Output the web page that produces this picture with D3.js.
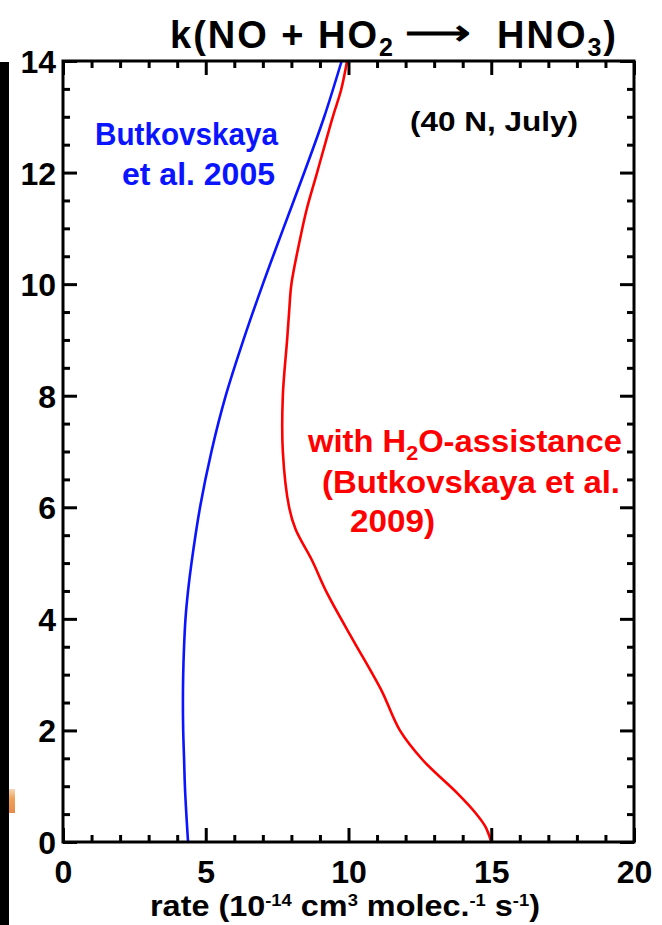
<!DOCTYPE html>
<html>
<head>
<meta charset="utf-8">
<script src="https://cdn.jsdelivr.net/npm/d3@7"></script>
<style>
  html, body { margin: 0; padding: 0; background: #fff; }
  svg { display: block; }
  text { font-family: "Liberation Sans", Arial, Helvetica, sans-serif; font-weight: bold; }
</style>
</head>
<body>
<svg id="chart" width="662" height="925"></svg>
<script>
// Altitude (km) and rate constant (1e-14 cm3 molec-1 s-1)
const butk2005Alt  = [0, 0.5, 1, 1.5, 2, 2.5, 3, 3.5, 4, 4.5, 5, 6, 7, 8, 9, 10, 11, 12, 13, 14];
const butk2005Rate = [4.38, 4.32, 4.27, 4.24, 4.21, 4.2, 4.21, 4.24, 4.29, 4.38, 4.5, 4.8, 5.2, 5.7, 6.32, 7.0, 7.72, 8.45, 9.15, 9.76];

const butk2009Alt  = [0, 0.27, 0.52, 0.88, 1.47, 2.0, 2.67, 3.03, 3.62, 4.46, 5.05, 5.6, 6, 7, 8, 9, 9.5, 10, 10.8, 11.33, 12, 13, 13.48, 14];
const butk2009Rate = [15.0, 14.8, 14.45, 13.8, 12.6, 11.8, 11.2, 10.82, 10.16, 9.25, 8.72, 8.15, 7.92, 7.7, 7.7, 7.85, 7.92, 8.0, 8.3, 8.53, 8.9, 9.45, 9.74, 9.95];

const xMajorTicks = [0, 5, 10, 15, 20];
const yMajorTicks = [0, 2, 4, 6, 8, 10, 12, 14];

const svg = d3.select("#chart");
const m = { left: 63, right: 634, top: 61, bottom: 842 };

const x = d3.scaleLinear().domain([0, 20]).range([m.left, m.right]);
const y = d3.scaleLinear().domain([0, 14]).range([m.bottom, m.top]);

// black strip at the left edge
svg.append("rect").attr("x", 0).attr("y", 62).attr("width", 9).attr("height", 863).attr("fill", "#000");
const grad = svg.append("defs").append("linearGradient").attr("id", "blob").attr("x1", 0).attr("y1", 0).attr("x2", 0).attr("y2", 1);
grad.append("stop").attr("offset", "0%").attr("stop-color", "#f6d7b8");
grad.append("stop").attr("offset", "40%").attr("stop-color", "#eea25a");
grad.append("stop").attr("offset", "100%").attr("stop-color", "#e98a4a");
svg.append("rect").attr("x", 9).attr("y", 789).attr("width", 6).attr("height", 24).attr("fill", "url(#blob)");

// curves
const line = d3.line().x(d => x(d[0])).y(d => y(d[1])).curve(d3.curveCatmullRom.alpha(0.5));
svg.append("path")
  .datum(butk2005Alt.map((a, i) => [butk2005Rate[i], a]))
  .attr("d", line).attr("fill", "none").attr("stroke", "#0a14ff").attr("stroke-width", 2.6);
svg.append("path")
  .datum(butk2009Alt.map((a, i) => [butk2009Rate[i], a]))
  .attr("d", line).attr("fill", "none").attr("stroke", "#ff0000").attr("stroke-width", 2.6);

// axes: major + minor ticks, pointing inward on all four sides
function styleAxis(g) {
  g.select(".domain").remove();
  g.selectAll(".tick line").attr("stroke", "#000").attr("stroke-width", 3);
}
function styleLabels(g) {
  g.selectAll("text").attr("font-size", 32).attr("fill", "#000")
    .attr("font-family", "Liberation Sans, Arial, sans-serif").attr("font-weight", "bold");
}
const xMinor = d3.range(0, 21, 1).filter(v => v % 5 !== 0);
const yMinor = d3.range(0, 14.01, 0.5).filter(v => v % 2 !== 0);

svg.append("g").attr("transform", `translate(0,${m.bottom})`)
  .call(d3.axisBottom(x).tickValues(xMinor).tickSize(-7).tickFormat("")).call(styleAxis);
svg.append("g").attr("transform", `translate(0,${m.bottom})`)
  .call(d3.axisBottom(x).tickValues(xMajorTicks).tickSize(-14).tickFormat(d3.format("d")))
  .call(styleAxis).call(styleLabels)
  .call(g => g.selectAll("text").attr("dy", 0).attr("y", 41));
svg.append("g").attr("transform", `translate(0,${m.top})`)
  .call(d3.axisTop(x).tickValues(xMinor).tickSize(-7).tickFormat("")).call(styleAxis);
svg.append("g").attr("transform", `translate(0,${m.top})`)
  .call(d3.axisTop(x).tickValues(xMajorTicks).tickSize(-14).tickFormat("")).call(styleAxis);

svg.append("g").attr("transform", `translate(${m.left},0)`)
  .call(d3.axisLeft(y).tickValues(yMinor).tickSize(-7).tickFormat("")).call(styleAxis);
svg.append("g").attr("transform", `translate(${m.left},0)`)
  .call(d3.axisLeft(y).tickValues(yMajorTicks).tickSize(-14).tickFormat(d3.format("d")))
  .call(styleAxis).call(styleLabels)
  .call(g => g.selectAll("text").attr("x", -7).attr("dy", "0.36em"));
svg.append("g").attr("transform", `translate(${m.right},0)`)
  .call(d3.axisRight(y).tickValues(yMinor).tickSize(-7).tickFormat("")).call(styleAxis);
svg.append("g").attr("transform", `translate(${m.right},0)`)
  .call(d3.axisRight(y).tickValues(yMajorTicks).tickSize(-14).tickFormat("")).call(styleAxis);

// frame
svg.append("rect").attr("x", m.left).attr("y", m.top)
  .attr("width", m.right - m.left).attr("height", m.bottom - m.top)
  .attr("fill", "none").attr("stroke", "#000").attr("stroke-width", 3);

// title, built in three pieces: reactants, arrow, product
const t1 = svg.append("text").attr("x", 170).attr("y", 48).attr("font-size", 38)
  .attr("letter-spacing", 2).attr("fill", "#000");
t1.append("tspan").text("k(NO + HO");
t1.append("tspan").attr("font-size", 25).attr("dy", 8).text("2");
svg.append("text").attr("x", 405).attr("y", 45).attr("font-size", 36)
  .attr("font-family", "DejaVu Sans").attr("font-weight", "normal")
  .attr("textLength", 66).attr("lengthAdjust", "spacingAndGlyphs").attr("fill", "#000").text("⟶");
const t2 = svg.append("text").attr("x", 497).attr("y", 48).attr("font-size", 38)
  .attr("letter-spacing", 2).attr("fill", "#000");
t2.append("tspan").text("HNO");
t2.append("tspan").attr("font-size", 25).attr("dy", 8).text("3");
t2.append("tspan").attr("dy", -8).text(")");

// x axis label
const xl = svg.append("text").attr("x", 150).attr("y", 916).attr("font-size", 30)
  .attr("textLength", 390).attr("lengthAdjust", "spacingAndGlyphs").attr("fill", "#000");
xl.append("tspan").text("rate (10");
xl.append("tspan").attr("font-size", 17).attr("dy", -10).text("-14");
xl.append("tspan").attr("dy", 10).text(" cm");
xl.append("tspan").attr("font-size", 17).attr("dy", -10).text("3");
xl.append("tspan").attr("dy", 10).text(" molec.");
xl.append("tspan").attr("font-size", 17).attr("dy", -10).text("-1");
xl.append("tspan").attr("dy", 10).text(" s");
xl.append("tspan").attr("font-size", 17).attr("dy", -10).text("-1");
xl.append("tspan").attr("dy", 10).text(")");

// annotations
svg.append("text").attr("x", 410).attr("y", 131).attr("font-size", 28)
  .attr("textLength", 168).attr("lengthAdjust", "spacingAndGlyphs").attr("fill", "#000").text("(40 N, July)");

svg.append("text").attr("x", 95).attr("y", 145).attr("font-size", 32)
  .attr("textLength", 183).attr("lengthAdjust", "spacingAndGlyphs").attr("fill", "#0a14ff").text("Butkovskaya");
svg.append("text").attr("x", 122).attr("y", 185).attr("font-size", 32)
  .attr("textLength", 153).attr("lengthAdjust", "spacingAndGlyphs").attr("fill", "#0a14ff").text("et al. 2005");

const r1 = svg.append("text").attr("x", 308).attr("y", 452).attr("font-size", 32)
  .attr("textLength", 314).attr("lengthAdjust", "spacingAndGlyphs").attr("fill", "#ff0000");
r1.append("tspan").text("with H");
r1.append("tspan").attr("font-size", 21).attr("dy", 8).text("2");
r1.append("tspan").attr("dy", -8).text("O-assistance");
svg.append("text").attr("x", 322).attr("y", 493).attr("font-size", 32)
  .attr("textLength", 298).attr("lengthAdjust", "spacingAndGlyphs").attr("fill", "#ff0000").text("(Butkovskaya et al.");
svg.append("text").attr("x", 350).attr("y", 532).attr("font-size", 32)
  .attr("textLength", 85).attr("lengthAdjust", "spacingAndGlyphs").attr("fill", "#ff0000").text("2009)");
</script>
</body>
</html>
